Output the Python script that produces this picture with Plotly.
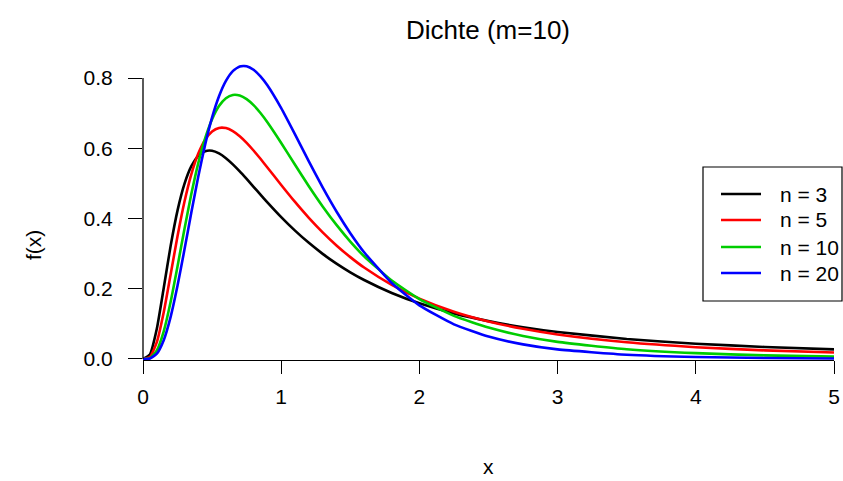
import plotly.graph_objects as go

# x grid and F(m=10, n) density values read/estimated from the chart
x_vals = [0, 0.05, 0.1, 0.15, 0.2, 0.25, 0.3, 0.35, 0.4, 0.45, 0.5, 0.55, 0.6, 0.65,
          0.7, 0.75, 0.8, 0.85, 0.9, 1.0, 1.1, 1.2, 1.3, 1.4, 1.5, 1.6, 1.8, 2.0,
          2.25, 2.5, 2.75, 3.0, 3.5, 4.0, 4.5, 5.0]
f_n3 = [0, 0.01277, 0.08585, 0.2021, 0.3221, 0.4232, 0.4985, 0.5489, 0.5784, 0.5917,
        0.5929, 0.5853, 0.5717, 0.5541, 0.5340, 0.5125, 0.4903, 0.4681, 0.4461, 0.4041,
        0.3655, 0.3306, 0.2993, 0.2715, 0.2467, 0.2248, 0.1879, 0.1585,
        0.1298, 0.1077, 0.09047, 0.07679, 0.05688, 0.04344, 0.03404, 0.02724]
f_n5 = [0, 0.005737, 0.04782, 0.1328, 0.2408, 0.3503, 0.4477, 0.5264, 0.5850, 0.6246,
        0.6480, 0.6580, 0.6575, 0.6488, 0.6342, 0.6154, 0.5936, 0.5700, 0.5454, 0.4955,
        0.4471, 0.4018, 0.3605, 0.3233, 0.2900, 0.2603, 0.2108, 0.1719,
        0.1347, 0.1069, 0.08588, 0.06978, 0.04748, 0.03350, 0.02434, 0.01815]
f_n10 = [0, 0.002419, 0.02429, 0.07884, 0.1628, 0.2642, 0.3702, 0.4702, 0.5576, 0.6288,
         0.6828, 0.7202, 0.7426, 0.7519, 0.7503, 0.7400, 0.7228, 0.7003, 0.6742, 0.6152,
         0.5530, 0.4919, 0.4344, 0.3817, 0.3344, 0.2925, 0.2233, 0.1707,
         0.1228, 0.08921, 0.06553, 0.04867, 0.02776, 0.01651, 0.01020, 0.006510]
f_n20 = [0, 0.001350, 0.01505, 0.05352, 0.1198, 0.2089, 0.3114, 0.4178, 0.5198, 0.6111,
         0.6879, 0.7482, 0.7920, 0.8198, 0.8331, 0.8337, 0.8236, 0.8049, 0.7794, 0.7144,
         0.6396, 0.5626, 0.4884, 0.4198, 0.3582, 0.3039, 0.2163, 0.1527,
         0.09855, 0.06373, 0.04147, 0.02720, 0.01206, 0.005579, 0.002690, 0.001349]

series_names = ["n = 3", "n = 5", "n = 10", "n = 20"]
series_vals = [f_n3, f_n5, f_n10, f_n20]
series_colors = ["#000000", "#FF0000", "#00CD00", "#0000FF"]

x_ticks = [0, 1, 2, 3, 4, 5]
y_ticks = [0.0, 0.2, 0.4, 0.6, 0.8]

FONT = "Liberation Sans, Arial, Helvetica, sans-serif"

fig = go.Figure()
for name, vals, col in zip(series_names, series_vals, series_colors):
    fig.add_trace(go.Scatter(x=x_vals, y=vals, mode="lines", name=name,
                             line=dict(color=col, width=2.6, shape="spline", smoothing=0.5)))

W, H = 843, 481
L, R, T, B = 143, 9, 64, 121
PW, PH = W - L - R, H - T - B


def px_x(p):
    return (p - L) / PW


def px_y(p):
    return (H - B - p) / PH


fig.update_layout(
    template="none",
    width=W, height=H,
    margin=dict(l=L, r=R, t=T, b=B, pad=0, autoexpand=False),
    paper_bgcolor="white", plot_bgcolor="white",
    font=dict(family=FONT, size=21, color="black"),
    title=dict(text="Dichte (m=10)", x=px_x(488), xref="paper", xanchor="center",
               y=1 - 30 / H, yref="container", yanchor="middle",
               font=dict(family=FONT, size=26, color="black")),
    xaxis=dict(range=[0, 5], tickvals=x_ticks, ticktext=[str(v) for v in x_ticks],
               showgrid=False, zeroline=False, showline=True, linecolor="black",
               linewidth=1.3, ticks="outside", ticklen=13, tickwidth=1.3,
               tickcolor="black", tickfont=dict(size=21), automargin=False,
               ticklabelstandoff=5),
    yaxis=dict(range=[-0.003, 0.84], tickvals=y_ticks, ticktext=[f"{v:.1f}" for v in y_ticks],
               showgrid=False, zeroline=False, showline=False,
               ticks="outside", ticklen=14, tickwidth=1.3, tickcolor="black",
               tickfont=dict(size=21), automargin=False, ticklabelstandoff=11),
    showlegend=False,
)

# y axis line only spanning 0 .. 0.8 (R style)
fig.add_shape(type="line", xref="paper", yref="y", x0=0, x1=0, y0=0, y1=0.8,
              line=dict(color="black", width=1.3))

# legend box (R style) drawn in pixel-derived paper coordinates
fig.add_shape(type="rect", xref="paper", yref="paper",
              x0=px_x(703), x1=px_x(842), y0=px_y(301), y1=px_y(167),
              line=dict(color="black", width=1.2), fillcolor="white", layer="above")
leg_rows = [194, 220, 247, 273]
for name, col, ry in zip(series_names, series_colors, leg_rows):
    fig.add_shape(type="line", xref="paper", yref="paper",
                  x0=px_x(721), x1=px_x(761), y0=px_y(ry), y1=px_y(ry),
                  line=dict(color=col, width=2.6), layer="above")
    fig.add_annotation(text=name, xref="paper", yref="paper", x=px_x(778), y=px_y(ry),
                       showarrow=False, xanchor="left", yanchor="middle",
                       font=dict(size=21, color="black"))

fig.add_annotation(text="x", xref="paper", yref="paper", x=px_x(488),
                   y=px_y(466), showarrow=False,
                   xanchor="center", yanchor="middle", font=dict(size=21))
fig.add_annotation(text="f(x)", xref="paper", yref="paper", x=px_x(33),
                   y=px_y(245), showarrow=False, textangle=-90,
                   xanchor="center", yanchor="middle", font=dict(size=21))

fig.write_html("out.html")
